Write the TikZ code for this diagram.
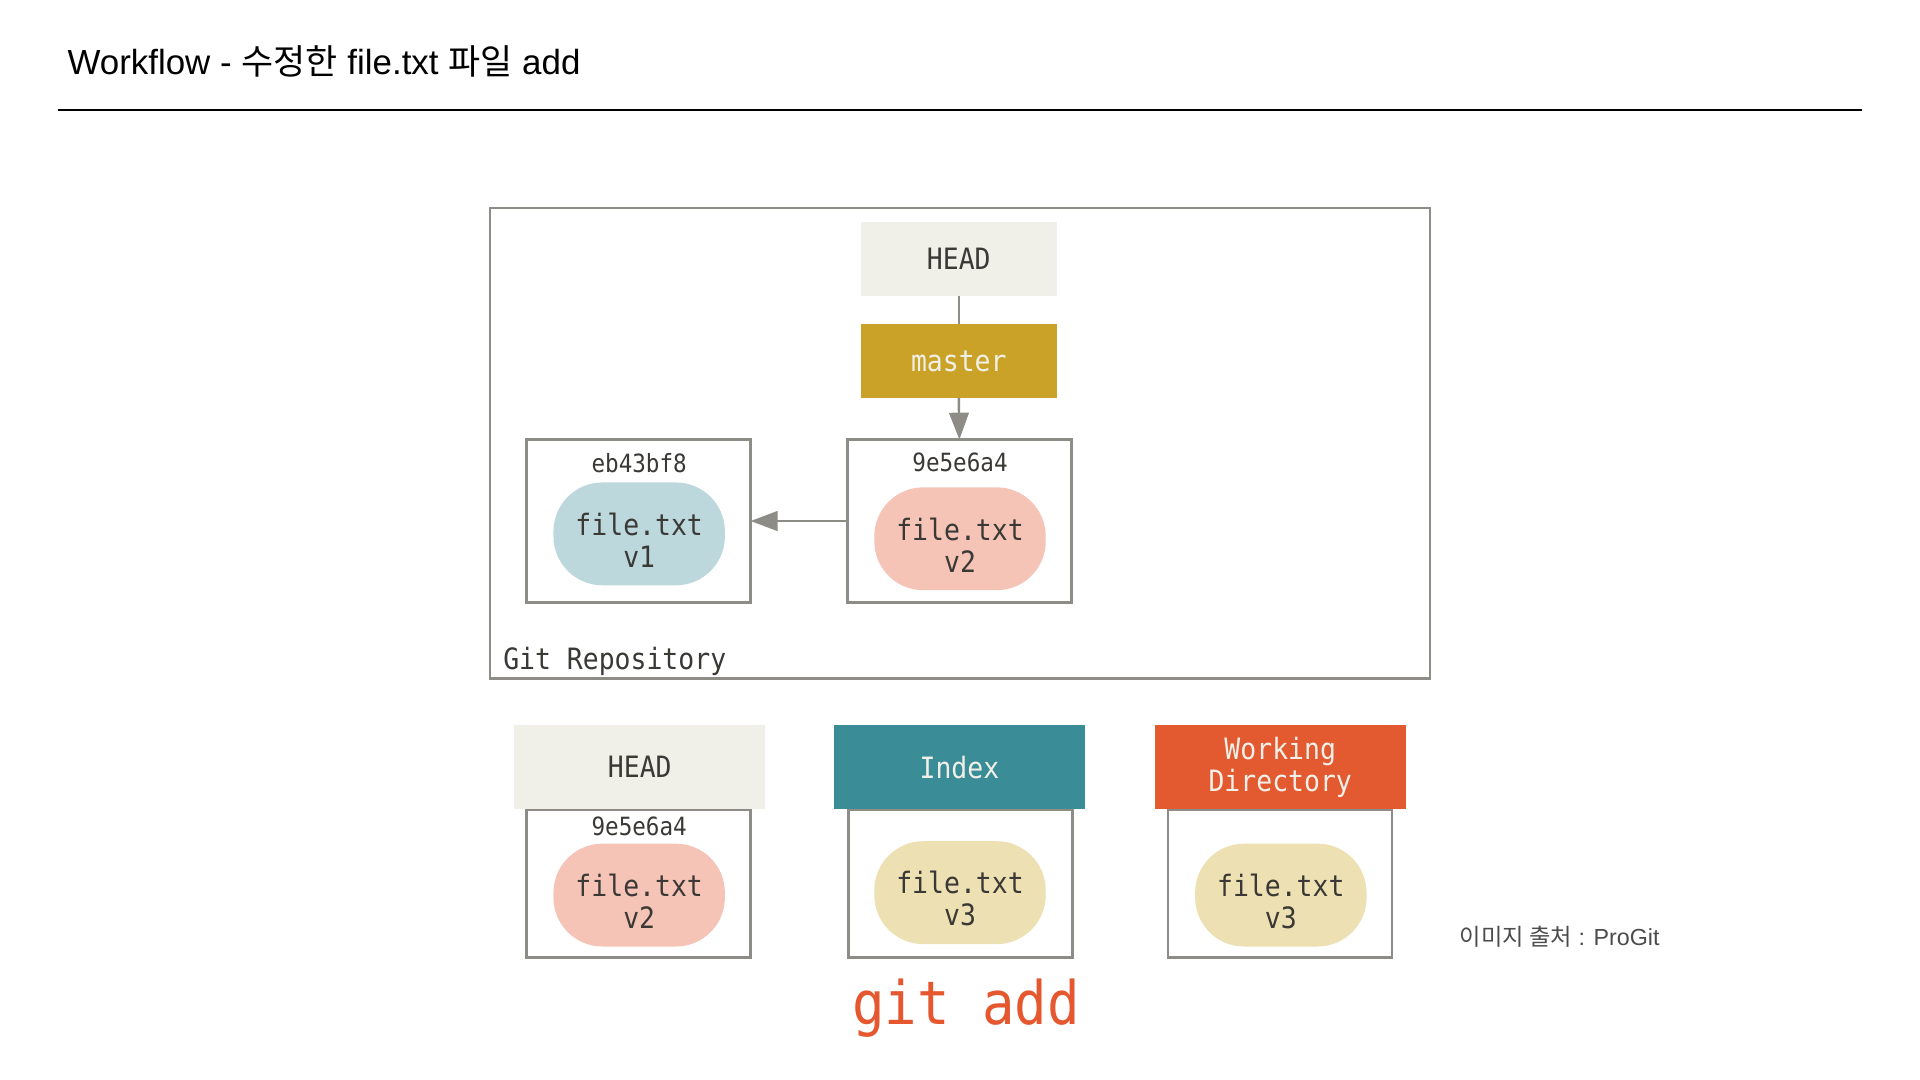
\documentclass[tikz,border=0pt]{standalone}
\usepackage{fontspec}
\setmainfont{Liberation Sans}
\setmonofont[FakeStretch=0.9]{DejaVu Sans Mono}
\newfontfamily\krfont{Noto Sans CJK KR}
\usetikzlibrary{arrows.meta}
\definecolor{edgegray}{HTML}{8E8C86}
\definecolor{headfill}{HTML}{F0EFE8}
\definecolor{masterfill}{HTML}{C9A227}
\definecolor{indexfill}{HTML}{3A8C96}
\definecolor{wdfill}{HTML}{E35A31}
\definecolor{bluefill}{HTML}{BCD8DC}
\definecolor{pinkfill}{HTML}{F5C4B6}
\definecolor{yellowfill}{HTML}{EDE0B2}
\definecolor{txtdark}{HTML}{3A3936}
\definecolor{gitred}{HTML}{E5572F}
\tikzset{
  lbl/.style={inner sep=0pt,outer sep=0pt,font=\ttfamily\fontsize{24}{26}\selectfont,text=txtdark},
  refbox/.style={lbl,minimum width=160pt,minimum height=61pt},
  commitbox/.style={draw=edgegray,line width=2pt,fill=white,minimum width=183pt,inner sep=0pt,outer sep=0pt},
  hdrbox/.style={lbl,minimum width=205pt,minimum height=69pt,align=center},
  hashlbl/.style={inner sep=0pt,font=\ttfamily\fontsize{20.5}{22}\selectfont,text=txtdark},
  blob/.style={inner sep=0pt,minimum width=140pt,minimum height=84pt,rounded corners=40pt},
  blobtxt/.style={lbl,align=center},
  conn/.style={draw=edgegray,line width=2pt},
  arr/.style={conn,-{Triangle[length=22pt,width=16pt]}},
}
\begin{document}
\begin{tikzpicture}[x=1pt,y=-1pt]
\useasboundingbox (0,0) rectangle (1568,882);
\fill[white] (0,0) rectangle (1568,882);
% title
\node[anchor=base west,inner sep=0pt,font=\fontsize{28.5}{30}\selectfont] (title) at (55,61) {Workflow - {\krfont 수정한} file.txt {\krfont 파일} add};
\coordinate (ruleL) at (47,90);
\coordinate (ruleR) at (1521,90);
\draw[line width=2pt,black] (ruleL) -- (ruleR);
% git repository frame
\node[draw=edgegray,line width=2pt,minimum width=768pt,minimum height=384pt,inner sep=0pt] (repo) at (784,362) {};
\node[lbl,anchor=base west] (repolbl) at (411,547) {Git Repository};
% top refs
\node[refbox,fill=headfill] (head) at (783,211.5) {HEAD};
\node[refbox,fill=masterfill,text=headfill,minimum height=60pt] (master) at (783,295) {master};
% commits
\node[commitbox,minimum height=133pt] (c1) at (521.5,425.5) {};
\node[commitbox,minimum height=133pt] (c2) at (783.5,425.5) {};
\node[hashlbl] (c1h) at (522,378) {eb43bf8};
\node[hashlbl] (c2h) at (784,378) {9e5e6a4};
\node[blob,fill=bluefill] (b1) at (522,436) {};
\node[blobtxt] (b1t) at ([yshift=-5pt]b1.center) {file.txt\\v1};
\node[blob,fill=pinkfill] (b2) at (784,440) {};
\node[blobtxt] (b2t) at ([yshift=-5pt]b2.center) {file.txt\\v2};
\draw[conn] (head) -- (master);
\draw[arr] (master.south) -- (c2.north);
\draw[arr] (c2.west) -- (c1.east);
% bottom three trees
\node[commitbox,minimum height=121pt] (t1) at (521.5,721.5) {};
\node[commitbox,minimum height=121pt] (t2) at (784.5,721.5) {};
\node[commitbox,minimum height=121pt] (t3) at (1045.5,721.5) {};
\node[hdrbox,fill=headfill] (h1) at (522.5,626.5) {HEAD};
\node[hdrbox,fill=indexfill,text=headfill] (h2) at (783.5,626.5) {Index};
\node[hdrbox,fill=wdfill,text=headfill] (h3) at (1045.5,626.5) {Working\\Directory};
\node[hashlbl] (t1h) at (522,675) {9e5e6a4};
\node[blob,fill=pinkfill] (tb1) at (522,731) {};
\node[blobtxt] (tb1t) at ([yshift=-5pt]tb1.center) {file.txt\\v2};
\node[blob,fill=yellowfill] (tb2) at (784,729) {};
\node[blobtxt] (tb2t) at ([yshift=-5pt]tb2.center) {file.txt\\v3};
\node[blob,fill=yellowfill] (tb3) at (1046,731) {};
\node[blobtxt] (tb3t) at ([yshift=-5pt]tb3.center) {file.txt\\v3};
% command
\node[inner sep=0pt,font=\ttfamily\fontsize{49}{51}\selectfont,text=gitred] (cmd) at (789,823) {git add};
% source
\node[anchor=west,inner sep=0pt,font=\fontsize{19}{21}\selectfont,text=black!70] (src) at (1192,765) {{\krfont 이미지 출처} : ProGit};
\end{tikzpicture}
\end{document}
